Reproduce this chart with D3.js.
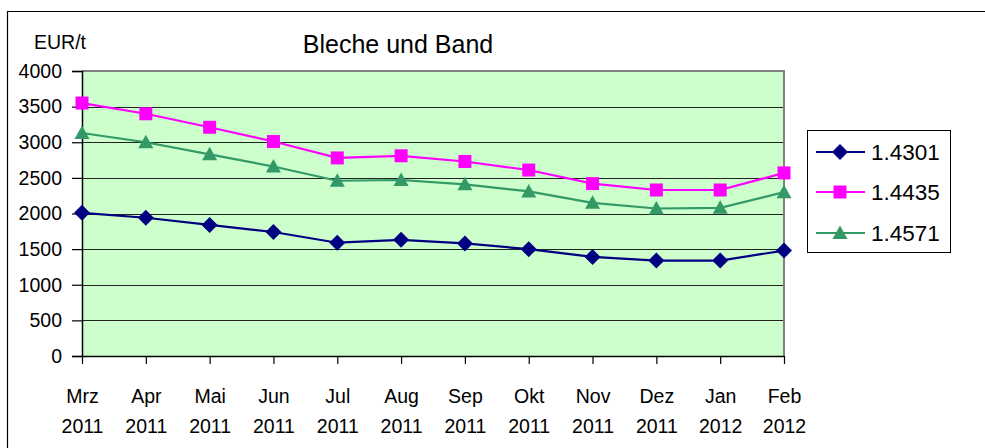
<!DOCTYPE html>
<html><head><meta charset="utf-8">
<script src="https://cdn.jsdelivr.net/npm/d3@7"></script>
<style>
body{margin:0;background:#fff}
svg{display:block;font-family:"Liberation Sans",Arial,sans-serif}
</style>
</head><body>
<svg id="c" width="985" height="448"></svg>
<script>
const months = ["Mrz","Apr","Mai","Jun","Jul","Aug","Sep","Okt","Nov","Dez","Jan","Feb"];
const years  = ["2011","2011","2011","2011","2011","2011","2011","2011","2011","2011","2012","2012"];
const s14301 = [2010,1940,1840,1740,1590,1630,1580,1500,1390,1340,1340,1480];
const s14435 = [3550,3400,3210,3010,2780,2810,2730,2610,2420,2330,2330,2570];
const s14571 = [3130,3000,2830,2660,2460,2470,2410,2310,2150,2070,2080,2300];
const seriesNames = ["1.4301","1.4435","1.4571"];
const yTicks = [0,500,1000,1500,2000,2500,3000,3500,4000];

const series = [
  {name:seriesNames[0], values:s14301, color:"#000080", shape:"diamond"},
  {name:seriesNames[1], values:s14435, color:"#FF00FF", shape:"square"},
  {name:seriesNames[2], values:s14571, color:"#339966", shape:"triangle"}
];

const svg = d3.select("#c");
const L=82, R=784, T=71, B=356;

// outer frame
svg.append("path").attr("d","M7.5,460 V11.5 H1000").attr("fill","none").attr("stroke","#000").attr("stroke-width",1.2);

const x = d3.scalePoint().domain(d3.range(months.length)).range([L,R]);
const y = d3.scaleLinear().domain([0,4000]).range([B,T]);

// plot background
svg.append("rect").attr("x",L).attr("y",T).attr("width",R-L).attr("height",B-T).attr("fill","#CCFFCC");
// grid
svg.append("g").selectAll("line").data(yTicks.filter(d=>d>0 && d<4000)).join("line")
  .attr("x1",L).attr("x2",R).attr("y1",d=>Math.round(y(d))+0.5).attr("y2",d=>Math.round(y(d))+0.5)
  .attr("stroke","#222").attr("stroke-width",1.1);
// top/right border
svg.append("path").attr("d",`M${L},${T} H${R} V${B}`).attr("fill","none").attr("stroke","#808080").attr("stroke-width",2);

// y axis
const ya = svg.append("g").attr("transform",`translate(${L},0)`)
  .call(d3.axisLeft(y).tickValues(yTicks).tickSize(10).tickPadding(10).tickFormat(d3.format("d")));
ya.select(".domain").attr("stroke","#000").attr("stroke-width",1.5);
ya.selectAll(".tick line").attr("stroke","#000").attr("stroke-width",1.2);
ya.selectAll("text").attr("font-size",19.5).attr("fill","#000").attr("font-family","Liberation Sans, Arial, sans-serif");

// x axis
const xa = svg.append("g").attr("transform",`translate(0,${B})`)
  .call(d3.axisBottom(x).tickSize(8).tickSizeOuter(0).tickFormat(""));
xa.select(".domain").attr("stroke","#000").attr("stroke-width",1.5);
xa.selectAll(".tick line").attr("stroke","#000").attr("stroke-width",1.2);
xa.selectAll(".tick text").each(function(d){
  const t = d3.select(this).attr("y",null).attr("dy",null)
    .attr("font-size",19.5).attr("fill","#000").attr("font-family","Liberation Sans, Arial, sans-serif");
  t.append("tspan").attr("x",0).attr("y",47).text(months[d]);
  t.append("tspan").attr("x",0).attr("y",77).text(years[d]);
});

// marker paths
function markerPath(shape){
  if(shape==="diamond") return "M0,-8 L8,0 L0,8 L-8,0 Z";
  if(shape==="square") return "M-6.5,-6.5 H6.5 V6.5 H-6.5 Z";
  return "M0,-7.5 L7.5,6 L-7.5,6 Z";
}

const line = d3.line().x((d,i)=>x(i)).y(d=>y(d));
series.forEach(s=>{
  const g = svg.append("g");
  g.append("path").datum(s.values).attr("d",line).attr("fill","none").attr("stroke",s.color).attr("stroke-width",2.2);
  g.selectAll("path.m").data(s.values).join("path").attr("class","m")
    .attr("d",markerPath(s.shape)).attr("transform",(d,i)=>`translate(${x(i)},${y(d)})`)
    .attr("fill",s.color);
});

// title
svg.append("text").attr("x",398).attr("y",53).attr("text-anchor","middle").attr("font-size",25).attr("fill","#000").text("Bleche und Band");
svg.append("text").attr("x",34).attr("y",49).attr("font-size",19.5).attr("fill","#000").text("EUR/t");

// legend
const lg = svg.append("g");
lg.append("rect").attr("x",807.5).attr("y",130.5).attr("width",143).attr("height",122).attr("fill","#fff").attr("stroke","#000").attr("stroke-width",1);
const ly = [152,192,233];
series.forEach((s,i)=>{
  const g = lg.append("g").attr("transform",`translate(0,${ly[i]})`);
  g.append("line").attr("x1",816).attr("x2",865).attr("stroke",s.color).attr("stroke-width",2.2);
  g.append("path").attr("d",markerPath(s.shape)).attr("transform","translate(840,0)").attr("fill",s.color);
  g.append("text").attr("x",871).attr("y",8).attr("font-size",22.5).attr("fill","#000").text(s.name);
});
</script>
</body></html>
